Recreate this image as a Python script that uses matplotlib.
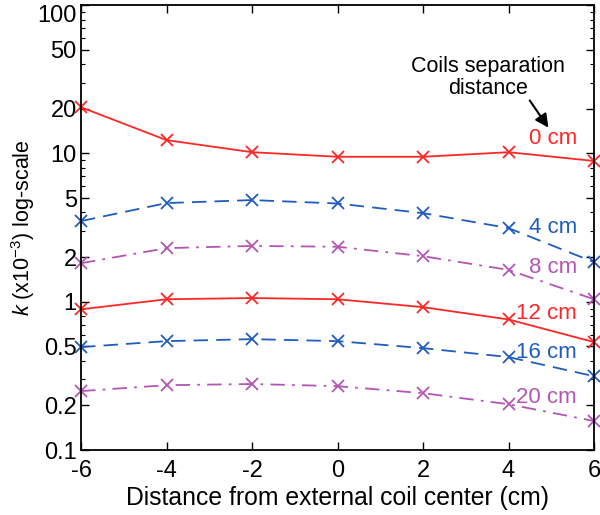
import matplotlib
matplotlib.use("Agg")
import matplotlib.pyplot as plt
from matplotlib.ticker import FixedLocator, NullFormatter, LogLocator

plt.rcParams['font.family'] = ['Liberation Sans', 'DejaVu Sans']
plt.rcParams['mathtext.fontset'] = 'custom'
plt.rcParams['mathtext.rm'] = 'Liberation Sans'
plt.rcParams['mathtext.it'] = 'Liberation Sans:italic'

# data
x = [-6, -4, -2, 0, 2, 4, 6]
k_0cm = [20.5, 12.3, 10.2, 9.5, 9.5, 10.2, 8.9]
k_4cm = [3.5, 4.63, 4.85, 4.6, 3.96, 3.14, 1.85]
k_8cm = [1.82, 2.30, 2.38, 2.35, 2.03, 1.64, 1.04]
k_12cm = [0.89, 1.04, 1.06, 1.04, 0.92, 0.76, 0.535]
k_16cm = [0.495, 0.543, 0.56, 0.543, 0.487, 0.424, 0.315]
k_20cm = [0.25, 0.274, 0.279, 0.27, 0.242, 0.204, 0.157]
labels = ["0 cm", "4 cm", "8 cm", "12 cm", "16 cm", "20 cm"]
yticks = [0.1, 0.2, 0.5, 1, 2, 5, 10, 20, 50, 100]
ytick_labels = ["0.1", "0.2", "0.5", "1", "2", "5", "10", "20", "50", "100"]

red = "#ff2626"
blue = "#1f5cbd"
purple = "#b455b4"

fig = plt.figure(figsize=(6, 5.15), dpi=100)
ax = fig.add_axes([0.135, 0.126, 0.855, 0.864])

series = [k_0cm, k_4cm, k_8cm, k_12cm, k_16cm, k_20cm]
colors = [red, blue, purple, red, blue, purple]
styles = ["-", (0, (8, 4.5)), (0, (8, 4, 1.5, 4)), "-", (0, (8, 4.5)), (0, (8, 4, 1.5, 4))]

for y, c, ls in zip(series, colors, styles):
    ax.plot(x, y, color=c, linestyle=ls, linewidth=1.3, marker="x",
            markersize=9, markeredgewidth=1.3, clip_on=False)

ax.set_yscale("log")
ax.set_xlim(-6, 6)
ax.set_ylim(0.1, 100)
ax.yaxis.set_major_locator(FixedLocator(yticks))
ax.set_yticklabels(ytick_labels)
ax.yaxis.set_minor_locator(LogLocator(base=10, subs=range(2, 10)))
ax.yaxis.set_minor_formatter(NullFormatter())
ax.set_xticks(x)
ax.set_xticklabels([str(v) for v in x])

ax.tick_params(which="both", direction="in", top=True, right=True, labelsize=17)
ax.tick_params(axis="y", pad=3)
ax.tick_params(axis="x", pad=7)
ax.tick_params(which="major", length=6, width=1)
ax.tick_params(which="minor", length=3, width=0.8)
for s in ax.spines.values():
    s.set_linewidth(1.3)
# keep the top label inside the figure
ax.yaxis.get_major_ticks()[-1].label1.set_verticalalignment("top")

ax.set_xlabel("Distance from external coil center (cm)", fontsize=17.8, labelpad=3)
ax.set_ylabel("$k$ (x10$^{-3}$) log-scale", fontsize=15.5, labelpad=0)

# line labels
label_y = [12.7, 3.19, 1.69, 0.84, 0.458, 0.228]
for txt, ly, c in zip(labels, label_y, colors):
    ax.text(5.6, ly, txt, color=c, fontsize=16, ha="right", va="center")

ax.text(3.52, 32.5, "Coils separation\ndistance", fontsize=15.5, ha="center", va="center",
        linespacing=1.1)
ax.annotate("", xy=(4.97, 14.4), xytext=(4.46, 23.6),
            arrowprops=dict(arrowstyle="-|>", color="black", lw=1.5, mutation_scale=20))

fig.savefig("out.png", dpi=100)
